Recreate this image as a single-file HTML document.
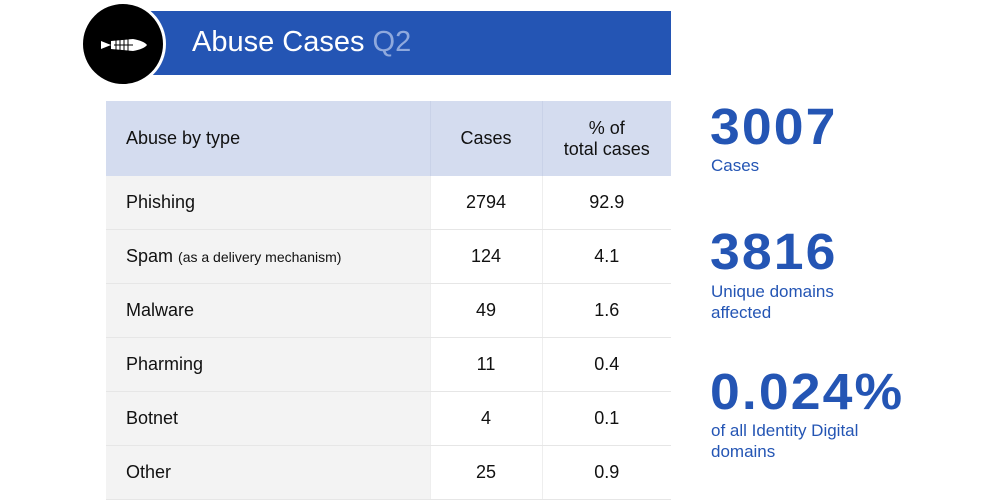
<!DOCTYPE html>
<html><head><style>
body{margin:0;width:1000px;height:500px;background:#fff;position:relative;overflow:hidden;font-family:"Liberation Sans",sans-serif}
.banner{position:absolute;left:140px;top:11px;width:531px;height:64px;background:#2455b4}
.title{position:absolute;left:192px;top:26px;font-size:29px;color:#fff}
.title span{color:#8fa9dd}
.circle{position:absolute;left:80px;top:1px;width:80px;height:80px;border-radius:50%;background:#000;border:3px solid #fff;box-sizing:content-box}
table{position:absolute;left:106px;top:101px;width:565px;border-collapse:collapse;table-layout:fixed;font-size:18px;color:#111}
td{height:53px;padding:0;border-bottom:1px solid #e6e6e6;text-align:center;border-left:1px solid #eee}
td:first-child{text-align:left;padding-left:20px;background:#f3f3f3;border-left:none}
tr.h td{background:#d4dcef;height:75px;border-bottom:none;border-left:1px solid #c9d2e8}
tr.h td:first-child{background:#d4dcef;border-left:none}
.big{position:absolute;left:710px;color:#2455b4;font-weight:bold;font-size:51px;letter-spacing:2px;line-height:58px;transform:scaleX(1.05);transform-origin:left}
.sm{position:absolute;left:711px;color:#2455b4;font-size:17px;line-height:21px}
</style></head><body>
<div class="banner"></div>
<div class="title">Abuse Cases <span>Q2</span></div>
<div class="circle"><svg width="80" height="80" viewBox="0 0 80 80"><path d="M18 37 L28 41 L18 45 Z M28 37 L50 35 Q61 37 64 41 Q61 45 50 47 L28 45 Z" fill="#fff"/><g stroke="#000" stroke-width="1"><line x1="33" y1="35" x2="33" y2="47"/><line x1="37" y1="35" x2="37" y2="47"/><line x1="41" y1="35" x2="41" y2="47"/><line x1="45" y1="35" x2="45" y2="47"/><line x1="31" y1="41" x2="50" y2="41"/></g></svg></div>
<table>
<colgroup><col style="width:324px"><col style="width:112px"><col style="width:129px"></colgroup>
<tr class="h"><td>Abuse by type</td><td>Cases</td><td>% of<br>total cases</td></tr>
<tr><td>Phishing</td><td>2794</td><td>92.9</td></tr>
<tr><td>Spam <span style="font-size:14px">(as a delivery mechanism)</span></td><td>124</td><td>4.1</td></tr>
<tr><td>Malware</td><td>49</td><td>1.6</td></tr>
<tr><td>Pharming</td><td>11</td><td>0.4</td></tr>
<tr><td>Botnet</td><td>4</td><td>0.1</td></tr>
<tr><td>Other</td><td>25</td><td>0.9</td></tr>
</table>
<div class="big" style="top:98px">3007</div>
<div class="sm" style="top:155px">Cases</div>
<div class="big" style="top:223px">3816</div>
<div class="sm" style="top:281px">Unique domains<br>affected</div>
<div class="big" style="top:363px">0.024%</div>
<div class="sm" style="top:420px">of all Identity Digital<br>domains</div>
</body></html>
